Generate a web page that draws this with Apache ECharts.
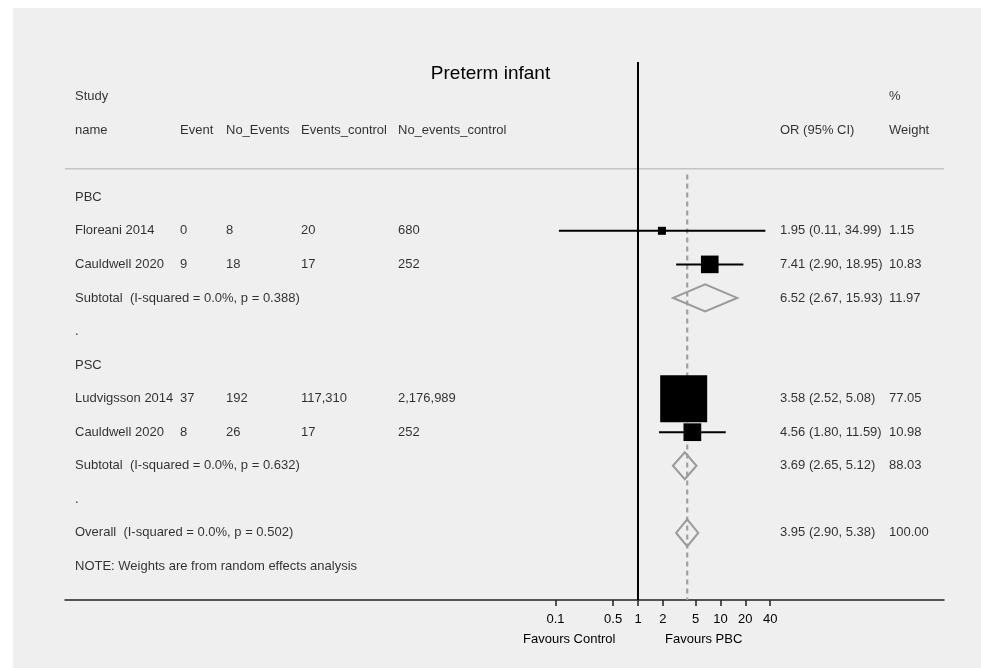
<!DOCTYPE html>
<html>
<head>
<meta charset="utf-8">
<title>Preterm infant</title>
<script src="https://cdn.jsdelivr.net/npm/echarts@6/dist/echarts.min.js"></script>
<style>
  html, body { margin: 0; padding: 0; background: #fff; }
  #chart { width: 981px; height: 668px; }
</style>
</head>
<body>
<div id="chart"></div>
<script>
// ---- Individual studies ----
const studyNames = ['Floreani 2014', 'Cauldwell 2020', 'Ludvigsson 2014', 'Cauldwell 2020'];
const studyRows = [1, 2, 6, 7];
const events = [0, 9, 37, 8];
const noEvents = [8, 18, 192, 26];
const eventsControl = [20, 17, 117310, 17];
const noEventsControl = [680, 252, 2176989, 252];
const studyOR = [1.95, 7.41, 3.58, 4.56];
const studyLo = [0.11, 2.90, 2.52, 1.80];
const studyHi = [34.99, 18.95, 5.08, 11.59];
const studyWeight = [1.15, 10.83, 77.05, 10.98];

// ---- Pooled estimates ----
const poolNames = [
  'Subtotal  (I-squared = 0.0%, p = 0.388)',
  'Subtotal  (I-squared = 0.0%, p = 0.632)',
  'Overall  (I-squared = 0.0%, p = 0.502)'
];
const poolRows = [3, 8, 10];
const poolOR = [6.52, 3.69, 3.95];
const poolLo = [2.67, 2.65, 2.90];
const poolHi = [15.93, 5.12, 5.38];
const poolWeight = [11.97, 88.03, 100.00];

// ---- Group headings and spacer rows ----
const groupLabels = ['PBC', '.', 'PSC', '.'];
const groupRows = [0, 4, 5, 9];
const noteText = 'NOTE: Weights are from random effects analysis';
const noteRow = 11;

// ---- Column headers ----
const headerTop = ['Study', '', '', '', '', '', '%'];
const headerBottom = ['name', 'Event', 'No_Events', 'Events_control', 'No_events_control', 'OR (95% CI)', 'Weight'];

// ---- Axis ----
const tickValues = [0.1, 0.5, 1, 2, 5, 10, 20, 40];
const overallOR = poolOR[2];

// layout (text column offsets in px from the left edge of the grid)
const colX = [10, 115, 161, 236, 333, 715, 824];
const FONT = "'Liberation Sans', Arial, Helvetica, sans-serif";
const TEXT_COLOR = '#000';
const boxScale = 47 / Math.sqrt(77.05);
const diamondHalf = 13.5;

const fmt = n => n.toLocaleString('en-US');
const ciText = (o, l, h) => `${o.toFixed(2)} (${l.toFixed(2)}, ${h.toFixed(2)})`;

// text cells: [x, row, text]
const textCells = [];
headerTop.forEach((t, i) => { if (t) textCells.push([colX[i], -3, t]); });
headerBottom.forEach((t, i) => textCells.push([colX[i], -2, t]));
groupLabels.forEach((t, i) => textCells.push([colX[0], groupRows[i], t]));
studyNames.forEach((n, i) => {
  const r = studyRows[i];
  textCells.push([colX[0], r, n]);
  textCells.push([colX[1], r, fmt(events[i])]);
  textCells.push([colX[2], r, fmt(noEvents[i])]);
  textCells.push([colX[3], r, fmt(eventsControl[i])]);
  textCells.push([colX[4], r, fmt(noEventsControl[i])]);
  textCells.push([colX[5], r, ciText(studyOR[i], studyLo[i], studyHi[i])]);
  textCells.push([colX[6], r, studyWeight[i].toFixed(2)]);
});
poolNames.forEach((n, i) => {
  const r = poolRows[i];
  textCells.push([colX[0], r, n]);
  textCells.push([colX[5], r, ciText(poolOR[i], poolLo[i], poolHi[i])]);
  textCells.push([colX[6], r, poolWeight[i].toFixed(2)]);
});
textCells.push([colX[0], noteRow, noteText]);

const L = Math.log10;
const studyData = studyNames.map((_, i) => [L(studyLo[i]), L(studyHi[i]), L(studyOR[i]), studyRows[i], studyWeight[i]]);
const poolData = poolNames.map((_, i) => [L(poolLo[i]), L(poolHi[i]), L(poolOR[i]), poolRows[i]]);

const chart = echarts.init(document.getElementById('chart'), null, { renderer: 'canvas' });

chart.setOption({
  backgroundColor: '#ffffff',
  animation: false,
  title: {
    text: 'Preterm infant',
    left: 'center',
    top: 59,
    textStyle: { fontFamily: FONT, fontSize: 19, fontWeight: 'normal', color: '#000' }
  },
  graphic: [
    { type: 'rect', z: -10, left: 13, top: 8, shape: { width: 968, height: 660 }, style: { fill: '#efefef' } },
    { type: 'text', left: 523, top: 633, style: { text: 'Favours Control', font: `13px ${FONT}`, fill: TEXT_COLOR } },
    { type: 'text', left: 665, top: 633, style: { text: 'Favours PBC', font: `13px ${FONT}`, fill: TEXT_COLOR } }
  ],
  grid: { left: 65, right: 37, top: 63, bottom: 68, containLabel: false },
  xAxis: [
    {
      type: 'value',
      gridIndex: 0,
      min: -6.945,
      max: 3.709,
      position: 'bottom',
      splitLine: { show: false },
      axisLine: { show: true, onZero: false, lineStyle: { color: '#222', width: 1.5 } },
      axisTick: { show: true, customValues: tickValues.map(L), length: 6, lineStyle: { color: '#222', width: 1.5 } },
      axisLabel: {
        customValues: tickValues.map(L),
        margin: 13,
        fontFamily: FONT,
        fontSize: 13,
        color: TEXT_COLOR,
        formatter: v => {
          const t = tickValues.find(x => Math.abs(L(x) - v) < 1e-6);
          return t === undefined ? '' : String(t);
        }
      }
    },
    { type: 'value', gridIndex: 0, min: 0, max: 879, show: false }
  ],
  yAxis: [
    { type: 'value', gridIndex: 0, inverse: true, min: -4, max: 12, show: false }
  ],
  series: [
    // separator under the header
    {
      type: 'line', xAxisIndex: 1, yAxisIndex: 0, symbol: 'none', silent: true, z: 1,
      lineStyle: { color: '#c4c4c4', width: 1.5 },
      data: [[0, -0.85], [879, -0.85]]
    },
    // line of no effect
    {
      type: 'line', xAxisIndex: 0, yAxisIndex: 0, symbol: 'none', silent: true, z: 3,
      lineStyle: { color: '#000', width: 2 },
      data: [[0, -4.03], [0, 12]]
    },
    // overall estimate
    {
      type: 'line', xAxisIndex: 0, yAxisIndex: 0, symbol: 'none', silent: true, z: 2,
      lineStyle: { color: '#a0a0a0', width: 2.2, type: [5, 4] },
      data: [[L(overallOR), -0.68], [L(overallOR), 12]]
    },
    // study confidence intervals and weighted boxes
    {
      type: 'custom', xAxisIndex: 0, yAxisIndex: 0, z: 5, clip: false,
      data: studyData,
      renderItem: (params, api) => {
        const y = api.value(3);
        const pLo = api.coord([api.value(0), y]);
        const pHi = api.coord([api.value(1), y]);
        const pC = api.coord([api.value(2), y]);
        const s = Math.max(8, boxScale * Math.sqrt(api.value(4)));
        return {
          type: 'group',
          children: [
            { type: 'line', shape: { x1: pLo[0], y1: pLo[1], x2: pHi[0], y2: pHi[1] }, style: { stroke: '#000', lineWidth: 2 } },
            { type: 'rect', shape: { x: pC[0] - s / 2, y: pC[1] - s / 2, width: s, height: s }, style: { fill: '#000' } }
          ]
        };
      }
    },
    // pooled diamonds
    {
      type: 'custom', xAxisIndex: 0, yAxisIndex: 0, z: 4, clip: false,
      data: poolData,
      renderItem: (params, api) => {
        const y = api.value(3);
        const pLo = api.coord([api.value(0), y]);
        const pHi = api.coord([api.value(1), y]);
        const pC = api.coord([api.value(2), y]);
        return {
          type: 'polygon',
          shape: { points: [[pLo[0], pLo[1]], [pC[0], pC[1] - diamondHalf], [pHi[0], pHi[1]], [pC[0], pC[1] + diamondHalf]] },
          style: { fill: 'none', stroke: '#9a9a9a', lineWidth: 2 }
        };
      }
    },
    // table text
    {
      type: 'scatter', xAxisIndex: 1, yAxisIndex: 0, symbolSize: 0, silent: true, z: 6,
      data: textCells,
      label: {
        show: true,
        position: 'right',
        distance: 0,
        align: 'left',
        verticalAlign: 'middle',
        fontFamily: FONT,
        fontSize: 13,
        color: TEXT_COLOR,
        formatter: p => p.data[2]
      }
    }
  ]
});
</script>
</body>
</html>
